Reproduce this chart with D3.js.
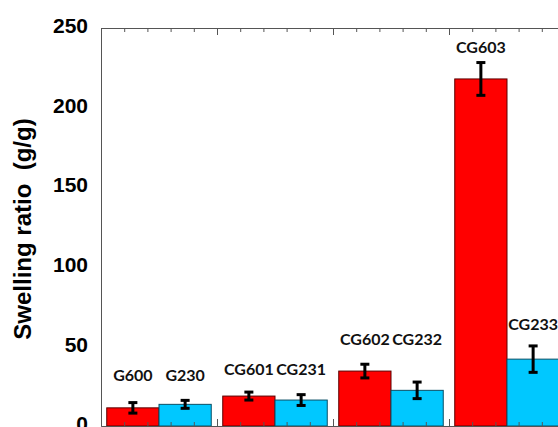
<!DOCTYPE html>
<html>
<head>
<meta charset="utf-8">
<script src="https://cdn.jsdelivr.net/npm/d3@7"></script>
<style>
  body { margin: 0; background: #fff; }
  svg { display: block; }
</style>
</head>
<body>
<div class="container"></div>
<script>
// data
const groups = ['g1', 'g2', 'g3', 'g4'];
const redNames = ['G600', 'CG601', 'CG602', 'CG603'];
const blueNames = ['G230', 'CG231', 'CG232', 'CG233'];
const redValues = [11.4, 18.8, 34.5, 218];
const redErrors = [3.3, 2.5, 4.3, 10.3];
const blueValues = [13.6, 16.3, 22.4, 42];
const blueErrors = [2.5, 3.4, 5.2, 8.3];
const redLabelAt = [32, 35.8, 54.6, 238];
const blueLabelAt = [32, 35.8, 54.6, 64];
const yTicks = [0, 50, 100, 150, 200, 250];

const width = 558, height = 427;
const plotLeft = 101, plotRight = 565, plotTop = 28, plotBottom = 426;

const svg = d3.select('.container').append('svg')
    .attr('width', width)
    .attr('height', height);

const x = d3.scaleBand().domain(groups).range([plotLeft, plotRight]).padding(0);
const sub = d3.scaleBand().domain(['red', 'blue']).range([0, x.bandwidth()]).paddingInner(0).paddingOuter(0.11);
const y = d3.scaleLinear().domain([0, 250]).range([plotBottom, plotTop]);
const xt = d3.scaleLinear().domain([0, groups.length]).range([plotLeft, plotRight]);

const series = [
    {key: 'red', fill: '#ff0000', stroke: '#5a0000', names: redNames, values: redValues, errors: redErrors, labels: redLabelAt},
    {key: 'blue', fill: '#00c8ff', stroke: '#0b4f66', names: blueNames, values: blueValues, errors: blueErrors, labels: blueLabelAt}
];

series.forEach(s => {
    const rows = groups.map((g, i) => ({g, name: s.names[i], v: s.values[i], e: s.errors[i], l: s.labels[i]}));
    const cx = d => x(d.g) + sub(s.key) + sub.bandwidth() / 2;

    svg.append('g').selectAll('rect')
        .data(rows)
        .enter()
        .append('rect')
        .attr('x', d => x(d.g) + sub(s.key))
        .attr('y', d => y(d.v))
        .attr('width', sub.bandwidth())
        .attr('height', d => y(0) - y(d.v))
        .attr('fill', s.fill)
        .attr('stroke', s.stroke)
        .attr('stroke-width', 1);

    const err = svg.append('g').attr('stroke', '#000').attr('stroke-width', 3);
    rows.forEach(d => {
        err.append('line').attr('x1', cx(d)).attr('x2', cx(d)).attr('y1', y(d.v + d.e)).attr('y2', y(d.v - d.e));
        err.append('line').attr('x1', cx(d) - 4.5).attr('x2', cx(d) + 4.5).attr('y1', y(d.v + d.e)).attr('y2', y(d.v + d.e));
        err.append('line').attr('x1', cx(d) - 4.5).attr('x2', cx(d) + 4.5).attr('y1', y(d.v - d.e)).attr('y2', y(d.v - d.e));
    });

    svg.append('g').selectAll('text')
        .data(rows)
        .enter()
        .append('text')
        .attr('x', cx)
        .attr('y', d => y(d.l))
        .attr('dy', '0.35em')
        .attr('text-anchor', 'middle')
        .style('font-family', 'Lato, "Open Sans", sans-serif')
        .style('font-weight', 'bold')
        .style('font-size', '16px')
        .style('fill', '#111')
        .text(d => d.name);
});

// axes
const minor = d3.range(0, groups.length * 5 + 1).filter(i => i % 5 !== 0).map(i => i / 5);
const major = d3.range(0, groups.length + 1);

function frame(g) {
    g.selectAll('.domain, line').attr('stroke', '#555');
    g.selectAll('text').remove();
}

svg.append('g').attr('transform', `translate(0,${plotTop})`)
    .call(d3.axisTop(xt).tickValues(minor).tickSize(-4).tickSizeOuter(0).tickFormat(''))
    .call(frame);
svg.append('g').attr('transform', `translate(0,${plotTop})`)
    .call(d3.axisTop(xt).tickValues(major).tickSize(-7).tickSizeOuter(0).tickFormat(''))
    .call(frame);
svg.append('g').attr('transform', `translate(0,${plotBottom})`)
    .call(d3.axisBottom(xt).tickValues(minor).tickSize(-4).tickSizeOuter(0).tickFormat(''))
    .call(frame);
svg.append('g').attr('transform', `translate(0,${plotBottom})`)
    .call(d3.axisBottom(xt).tickValues(major).tickSize(-7).tickSizeOuter(0).tickFormat(''))
    .call(frame);

const yAxis = svg.append('g').attr('transform', `translate(${plotLeft},0)`)
    .call(d3.axisLeft(y).tickValues(yTicks).tickSize(0).tickSizeOuter(0).tickPadding(13));
yAxis.select('.domain').attr('stroke', '#555');
yAxis.selectAll('text')
    .attr('dy', '0.22em')
    .style('font-family', '"Liberation Sans", Arial, sans-serif')
    .style('font-weight', 'bold')
    .style('font-size', '21px')
    .style('fill', '#000');

svg.append('text')
    .attr('transform', 'translate(31,229) rotate(-90)')
    .attr('text-anchor', 'middle')
    .style('font-family', '"Liberation Sans", Arial, sans-serif')
    .style('font-weight', 'bold')
    .style('font-size', '24px')
    .style('white-space', 'pre')
    .text('Swelling ratio  (g/g)');
</script>
</body>
</html>
